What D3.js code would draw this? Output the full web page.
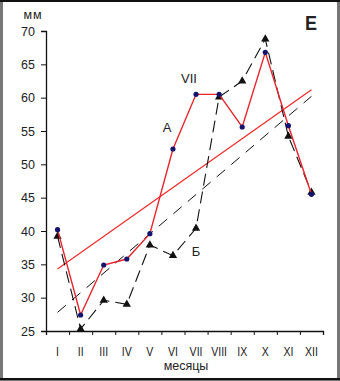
<!DOCTYPE html>
<html><head><meta charset="utf-8">
<script src="https://cdn.jsdelivr.net/npm/d3@7"></script>
<style>body{margin:0;background:#fff}svg{display:block}text{font-family:"Liberation Sans",Arial,sans-serif;fill:#222}</style>
</head><body>
<script>
const months = ["I","II","III","IV","V","VI","VII","VIII","IX","X","XI","XII"];
const seriesA = [40.2,27.4,34.9,35.8,39.6,52.3,60.5,60.5,55.6,66.8,55.8,45.5];
const seriesB = [39.2,25.3,29.6,29.0,37.9,36.3,40.4,60.1,62.5,68.8,54.2,45.8];
const trendA = [34.3,61.2];
const trendB = [27.8,60.2];
const yTicks = [25,30,35,40,45,50,55,60,65,70];

const W=340,H=381;
const svg=d3.select("body").append("svg").attr("width",W).attr("height",H);
svg.append("rect").attr("x",0).attr("y",0).attr("width",W).attr("height",H).attr("fill","#fff");
// frame
svg.append("rect").attr("x",1.5).attr("y",0.5).attr("width",W-3).attr("height",H-2).attr("fill","none").attr("stroke","#777").attr("stroke-width",3);
svg.append("line").attr("x1",0).attr("x2",W).attr("y1",1).attr("y2",1).attr("stroke","#111").attr("stroke-width",2);
svg.append("line").attr("x1",0).attr("x2",W).attr("y1",H-2).attr("y2",H-2).attr("stroke","#111").attr("stroke-width",2);

const x=d3.scaleBand().domain(months).range([46,323]);
const xl=d3.scaleLinear().domain([0,12]).range([46,323]);
const y=d3.scaleLinear().domain([25,70]).range([331,31]);
const cx=d=>x(d)+x.bandwidth()/2;

// y axis
const ya=svg.append("g").attr("transform","translate(46,0)")
  .call(d3.axisLeft(y).tickValues(yTicks).tickSize(5).tickPadding(6).tickFormat(d3.format("d")));
ya.select(".domain").attr("stroke","#111").attr("stroke-width",1.3);
ya.selectAll(".tick line").attr("stroke","#111");
ya.selectAll("text").attr("font-size",12.5).attr("fill","#222").style("font-family","Liberation Sans, Arial");

// x axis
const xa=svg.append("g").attr("transform","translate(0,331)")
  .call(d3.axisBottom(xl).tickValues(d3.range(13)).tickSize(4).tickFormat(""));
xa.select(".domain").attr("stroke","#111").attr("stroke-width",1.3);
xa.selectAll(".tick line").attr("stroke","#111");
svg.append("g").selectAll("text").data(months).join("text")
  .attr("transform",d=>`translate(${cx(d)},356) scale(0.78,1)`).attr("text-anchor","middle")
  .attr("font-size",13.5).text(d=>d);

svg.append("text").attr("x",186).attr("y",370).attr("text-anchor","middle").attr("font-size",12.5).text("месяцы");
svg.append("text").attr("x",33).attr("y",19).attr("text-anchor","middle").attr("font-size",12.5).attr("letter-spacing",1).text("мм");
svg.append("text").attr("x",311).attr("y",30).attr("text-anchor","middle").attr("font-size",20).attr("font-weight","bold")
  .attr("textLength",12).attr("lengthAdjust","spacingAndGlyphs").text("E");

// trend lines
const first=months[0], last=months[months.length-1];
svg.append("line").attr("x1",cx(first)).attr("x2",cx(last)).attr("y1",y(trendA[0])).attr("y2",y(trendA[1]))
  .attr("stroke","#f02828").attr("stroke-width",1.2);
svg.append("line").attr("x1",cx(first)).attr("x2",cx(last)).attr("y1",y(trendB[0])).attr("y2",y(trendB[1]))
  .attr("stroke","#111").attr("stroke-width",1).attr("stroke-dasharray","11,8");

const line=d3.line().x((d,i)=>cx(months[i])).y(d=>y(d));
// series B
svg.append("path").datum(seriesB).attr("d",line).attr("fill","none").attr("stroke","#111")
  .attr("stroke-width",1.1).attr("stroke-dasharray","12,6");
svg.append("g").selectAll("path").data(seriesB).join("path")
  .attr("d",d3.symbol(d3.symbolTriangle,30)).attr("transform",(d,i)=>`translate(${cx(months[i])},${y(d)})`).attr("fill","#111");
// series A
svg.append("path").datum(seriesA).attr("d",line).attr("fill","none").attr("stroke","#e8242c").attr("stroke-width",1.4);
svg.append("g").selectAll("circle").data(seriesA).join("circle")
  .attr("cx",(d,i)=>cx(months[i])).attr("cy",d=>y(d)).attr("r",2.6).attr("fill","#14146e");

// annotations
svg.append("text").attr("x",189).attr("y",83).attr("text-anchor","middle").attr("font-size",13).text("VII");
svg.append("text").attr("x",167).attr("y",132).attr("text-anchor","middle").attr("font-size",13).text("А");
svg.append("text").attr("x",196).attr("y",256).attr("text-anchor","middle").attr("font-size",13).text("Б");
</script>
</body></html>
